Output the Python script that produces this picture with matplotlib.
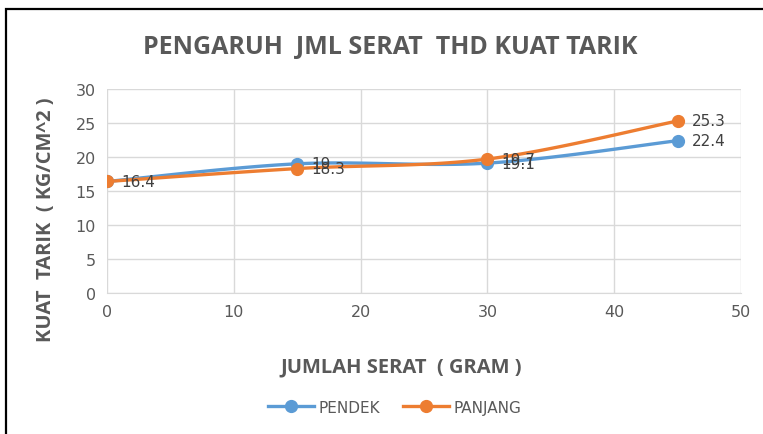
import numpy as np
import matplotlib
matplotlib.use("Agg")
import matplotlib.pyplot as plt
from matplotlib.patches import Rectangle

# data
jumlah_serat = [0, 15, 30, 45]
pendek = [16.4, 19, 19.1, 22.4]
panjang = [16.4, 18.3, 19.7, 25.3]
label_pendek = ['16.4', '19', '19.1', '22.4']
label_panjang = ['16.4', '18.3', '19.7', '25.3']

plt.rcParams['font.family'] = ['Open Sans', 'DejaVu Sans']


def smooth(x, y, n=30):
    # catmull-rom, kira-kira seperti garis halus excel
    x = np.asarray(x, float)
    y = np.asarray(y, float)
    px = np.concatenate([[x[0]], x, [x[-1]]])
    py = np.concatenate([[y[0]], y, [y[-1]]])
    xs, ys = [], []
    t = np.linspace(0, 1, n)
    for i in range(1, len(px) - 2):
        p0 = np.array([px[i - 1], py[i - 1]])
        p1 = np.array([px[i], py[i]])
        p2 = np.array([px[i + 1], py[i + 1]])
        p3 = np.array([px[i + 2], py[i + 2]])
        c1 = p1 + (p2 - p0) / 6
        c2 = p2 - (p3 - p1) / 6
        for tt in t:
            b = ((1 - tt) ** 3 * p1 + 3 * (1 - tt) ** 2 * tt * c1
                 + 3 * (1 - tt) * tt ** 2 * c2 + tt ** 3 * p2)
            xs.append(b[0])
            ys.append(b[1])
    return xs, ys


fig = plt.figure(figsize=(7.63, 4.35), dpi=100)
ax = fig.add_axes([0.1402, 0.3241, 0.8310, 0.4690])

biru = '#5B9BD5'
oranye = '#ED7D31'

sx, sy = smooth(jumlah_serat, pendek)
ax.plot(sx, sy, color=biru, lw=2.4, zorder=3)
ax.plot(jumlah_serat, pendek, 'o', color=biru, ms=8.5, zorder=4)
sx, sy = smooth(jumlah_serat, panjang)
ax.plot(sx, sy, color=oranye, lw=2.4, zorder=3)
ax.plot(jumlah_serat, panjang, 'o', color=oranye, ms=8.5, zorder=4)

# label data (16.4 pendek tertutup label panjang)
for xv, yv, lb in zip(jumlah_serat[1:], pendek[1:], label_pendek[1:]):
    ax.annotate(lb, (xv, yv), xytext=(10, 0), textcoords='offset points',
                va='center', ha='left', fontsize=11, color='#404040',
                family=['DejaVu Sans'], zorder=5)
for xv, yv, lb in zip(jumlah_serat, panjang, label_panjang):
    ax.annotate(lb, (xv, yv), xytext=(10, 0), textcoords='offset points',
                va='center', ha='left', fontsize=11, color='#404040',
                family=['DejaVu Sans'], zorder=5)

ax.set_xlim(0, 50)
ax.set_ylim(0, 30)
ax.set_xticks(range(0, 51, 10))
ax.set_yticks(range(0, 31, 5))
ax.grid(True, color='#D9D9D9', lw=1)
ax.set_axisbelow(True)
for s in ax.spines.values():
    s.set_visible(False)
ax.spines['bottom'].set_visible(True)
ax.spines['bottom'].set_color('#D9D9D9')
ax.tick_params(length=0, labelsize=11.5, colors='#595959', pad=8)
for lab in ax.get_xticklabels() + ax.get_yticklabels():
    lab.set_family(['DejaVu Sans'])

fig.text(0.512, 0.89, 'PENGARUH  JML SERAT  THD KUAT TARIK', ha='center', va='center',
         fontsize=18, fontweight='bold', color='#595959')
fig.text(0.526, 0.155, 'JUMLAH SERAT  ( GRAM )', ha='center', va='center',
         fontsize=14.5, fontweight='bold', color='#595959')
fig.text(0.060, 0.494, 'KUAT  TARIK  ( KG/CM^2 )', ha='center', va='center',
         rotation=90, fontsize=14.5, fontweight='bold', color='#595959')

h1, = ax.plot([], [], '-o', color=biru, lw=2.4, ms=8.5)
h2, = ax.plot([], [], '-o', color=oranye, lw=2.4, ms=8.5)
leg = fig.legend([h1, h2], ['PENDEK', 'PANJANG'], loc='center', bbox_to_anchor=(0.517, 0.062),
                 ncol=2, frameon=False, handlelength=3, columnspacing=1.5,
                 handletextpad=0.3, prop={'family': ['DejaVu Sans'], 'size': 11})
for t in leg.get_texts():
    t.set_color('#595959')

fig.patches.append(Rectangle((6 / 763, -0.1), 1.2, 1.1 - 10 / 435, transform=fig.transFigure,
                             fill=False, ec='black', lw=1.6))

fig.savefig('out.png', dpi=100)
